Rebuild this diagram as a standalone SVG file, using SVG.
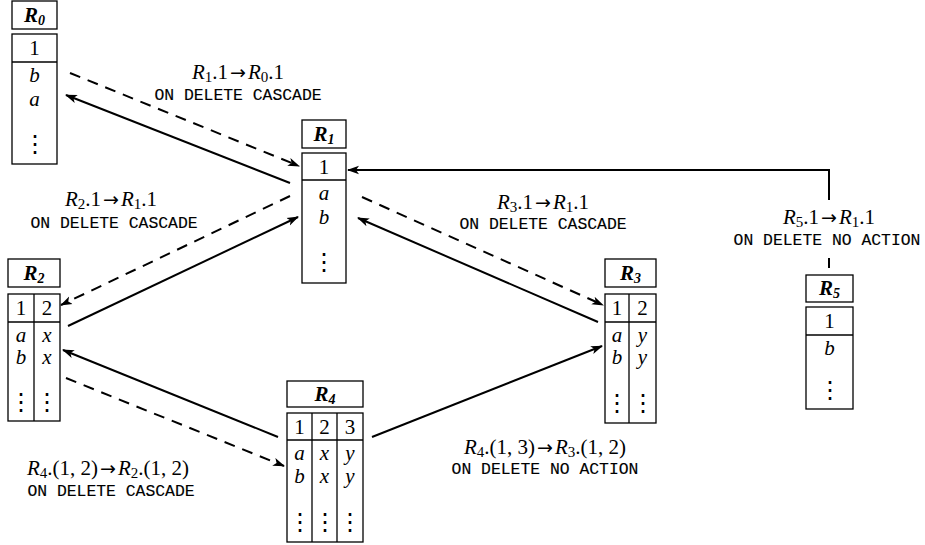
<svg xmlns="http://www.w3.org/2000/svg" width="925" height="545" viewBox="0 0 925 545">
<style>
.box{fill:#fff;stroke:#000;stroke-width:1.3}
.ln{stroke:#000;stroke-width:1.3;fill:none}
.c{stroke:#000;stroke-width:2;fill:none}
.d{stroke-dasharray:11 8}
.m{font-family:"Liberation Serif",serif;font-size:21px;fill:#000}
.i{font-style:italic}
.s{font-size:15px}
.ar{font-family:"DejaVu Sans",sans-serif;font-size:19px}
.ti{font-family:"Liberation Serif",serif;font-size:21px;font-weight:bold;font-style:italic}
.cell{font-family:"Liberation Serif",serif;font-size:21px;text-anchor:middle}
.dots{font-family:"DejaVu Serif",serif;font-size:24px;text-anchor:middle}
.t{font-family:"Liberation Mono",monospace;font-size:16.4px;text-anchor:middle;stroke:#000;stroke-width:0.15}
</style>
<defs>
<marker id="ah" viewBox="0 0 12 10" refX="11" refY="5" markerWidth="12" markerHeight="10" markerUnits="userSpaceOnUse" orient="auto">
<path d="M0,0.8 L12,5 L0,9.2 L3,5 z" fill="#000"/>
</marker>
</defs>

<g id="connectors">
<path class="c d" d="M70,73 L299,166" marker-end="url(#ah)"/>
<path class="c" d="M290,183 L66,95" marker-end="url(#ah)"/>
<path class="c d" d="M290,196 L61,305" marker-end="url(#ah)"/>
<path class="c" d="M68,326 L298,217" marker-end="url(#ah)"/>
<path class="c" d="M598,322 L358,218" marker-end="url(#ah)"/>
<path class="c d" d="M362,197 L603,305" marker-end="url(#ah)"/>
<path class="c" d="M829,200 L829,170 L348,170" marker-end="url(#ah)"/>
<path class="c" d="M829,258 L829,268"/>
<path class="c" d="M278,437 L63,350" marker-end="url(#ah)"/>
<path class="c d" d="M66,378 L284,466" marker-end="url(#ah)"/>
<path class="c" d="M372,437 L602,346" marker-end="url(#ah)"/>
</g>

<g id="labels">
<text class="m" x="238" y="79" text-anchor="middle"><tspan class="i">R</tspan><tspan class="s" dy="3">1</tspan><tspan dy="-3">.1</tspan><tspan class="ar" dx="2">→</tspan><tspan class="i" dx="2">R</tspan><tspan class="s" dy="3">0</tspan><tspan dy="-3">.1</tspan></text>
<text class="t" x="238" y="100">ON DELETE CASCADE</text>
<text class="m" x="111" y="206" text-anchor="middle"><tspan class="i">R</tspan><tspan class="s" dy="3">2</tspan><tspan dy="-3">.1</tspan><tspan class="ar" dx="2">→</tspan><tspan class="i" dx="2">R</tspan><tspan class="s" dy="3">1</tspan><tspan dy="-3">.1</tspan></text>
<text class="t" x="114" y="228">ON DELETE CASCADE</text>
<text class="m" x="543" y="209" text-anchor="middle"><tspan class="i">R</tspan><tspan class="s" dy="3">3</tspan><tspan dy="-3">.1</tspan><tspan class="ar" dx="2">→</tspan><tspan class="i" dx="2">R</tspan><tspan class="s" dy="3">1</tspan><tspan dy="-3">.1</tspan></text>
<text class="t" x="543" y="229">ON DELETE CASCADE</text>
<text class="m" x="829" y="224" text-anchor="middle"><tspan class="i">R</tspan><tspan class="s" dy="3">5</tspan><tspan dy="-3">.1</tspan><tspan class="ar" dx="2">→</tspan><tspan class="i" dx="2">R</tspan><tspan class="s" dy="3">1</tspan><tspan dy="-3">.1</tspan></text>
<text class="t" x="827" y="245">ON DELETE NO ACTION</text>
<text class="m" x="108" y="475" text-anchor="middle"><tspan class="i">R</tspan><tspan class="s" dy="3">4</tspan><tspan dy="-3">.(1, 2)</tspan><tspan class="ar" dx="2">→</tspan><tspan class="i" dx="2">R</tspan><tspan class="s" dy="3">2</tspan><tspan dy="-3">.(1, 2)</tspan></text>
<text class="t" x="111" y="496">ON DELETE CASCADE</text>
<text class="m" x="545" y="454" text-anchor="middle"><tspan class="i">R</tspan><tspan class="s" dy="3">4</tspan><tspan dy="-3">.(1, 3)</tspan><tspan class="ar" dx="2">→</tspan><tspan class="i" dx="2">R</tspan><tspan class="s" dy="3">3</tspan><tspan dy="-3">.(1, 2)</tspan></text>
<text class="t" x="545" y="474">ON DELETE NO ACTION</text>
</g>

<g id="R0">
<rect class="box" x="12" y="1" width="45" height="28"/>
<text class="ti" x="34.5" y="22" text-anchor="middle">R<tspan font-size="14" dy="3">0</tspan></text>
<rect class="box" x="12" y="34" width="45" height="130"/>
<line class="ln" x1="12" y1="62" x2="57" y2="62"/>
<text class="cell" x="34.5" y="55">1</text>
<text class="cell i" x="34.5" y="82">b</text>
<text class="cell i" x="34.5" y="106">a</text>
<text class="dots" x="34.5" y="152">⋮</text>
</g>

<g id="R1">
<rect class="box" x="302" y="120" width="44" height="28"/>
<text class="ti" x="324" y="141" text-anchor="middle">R<tspan font-size="14" dy="3">1</tspan></text>
<rect class="box" x="302" y="153" width="44" height="130"/>
<line class="ln" x1="302" y1="180" x2="346" y2="180"/>
<text class="cell" x="324" y="174">1</text>
<text class="cell i" x="324" y="200">a</text>
<text class="cell i" x="324" y="224">b</text>
<text class="dots" x="324" y="270">⋮</text>
</g>

<g id="R2">
<rect class="box" x="8" y="259" width="52" height="28"/>
<text class="ti" x="34" y="280" text-anchor="middle">R<tspan font-size="14" dy="3">2</tspan></text>
<rect class="box" x="8" y="294" width="52" height="127"/>
<line class="ln" x1="8" y1="322" x2="60" y2="322"/>
<line class="ln" x1="34" y1="294" x2="34" y2="421"/>
<text class="cell" x="21" y="315">1</text>
<text class="cell" x="47" y="315">2</text>
<text class="cell i" x="21" y="342">a</text>
<text class="cell i" x="47" y="342">x</text>
<text class="cell i" x="21" y="364">b</text>
<text class="cell i" x="47" y="364">x</text>
<text class="dots" x="21" y="410">⋮</text>
<text class="dots" x="47" y="410">⋮</text>
</g>

<g id="R3">
<rect class="box" x="605" y="259" width="51" height="28"/>
<text class="ti" x="630.5" y="280" text-anchor="middle">R<tspan font-size="14" dy="3">3</tspan></text>
<rect class="box" x="605" y="294" width="51" height="129"/>
<line class="ln" x1="605" y1="322" x2="656" y2="322"/>
<line class="ln" x1="629" y1="294" x2="629" y2="423"/>
<text class="cell" x="617" y="315">1</text>
<text class="cell" x="642.5" y="315">2</text>
<text class="cell i" x="617" y="342">a</text>
<text class="cell i" x="642.5" y="342">y</text>
<text class="cell i" x="617" y="364">b</text>
<text class="cell i" x="642.5" y="364">y</text>
<text class="dots" x="617" y="411">⋮</text>
<text class="dots" x="642.5" y="411">⋮</text>
</g>

<g id="R4">
<rect class="box" x="287" y="381" width="76" height="26"/>
<text class="ti" x="325" y="401" text-anchor="middle">R<tspan font-size="14" dy="3">4</tspan></text>
<rect class="box" x="287" y="413" width="76" height="129"/>
<line class="ln" x1="287" y1="440" x2="363" y2="440"/>
<line class="ln" x1="312" y1="413" x2="312" y2="542"/>
<line class="ln" x1="337" y1="413" x2="337" y2="542"/>
<text class="cell" x="299.5" y="434">1</text>
<text class="cell" x="324.5" y="434">2</text>
<text class="cell" x="350" y="434">3</text>
<text class="cell i" x="299.5" y="460">a</text>
<text class="cell i" x="324.5" y="460">x</text>
<text class="cell i" x="350" y="460">y</text>
<text class="cell i" x="299.5" y="483">b</text>
<text class="cell i" x="324.5" y="483">x</text>
<text class="cell i" x="350" y="483">y</text>
<text class="dots" x="299.5" y="530">⋮</text>
<text class="dots" x="324.5" y="530">⋮</text>
<text class="dots" x="350" y="530">⋮</text>
</g>

<g id="R5">
<rect class="box" x="806" y="275" width="47" height="27"/>
<text class="ti" x="829.5" y="295" text-anchor="middle">R<tspan font-size="14" dy="3">5</tspan></text>
<rect class="box" x="806" y="307" width="47" height="102"/>
<line class="ln" x1="806" y1="335" x2="853" y2="335"/>
<text class="cell" x="829.5" y="328">1</text>
<text class="cell i" x="829.5" y="355">b</text>
<text class="dots" x="829.5" y="398">⋮</text>
</g>
</svg>
